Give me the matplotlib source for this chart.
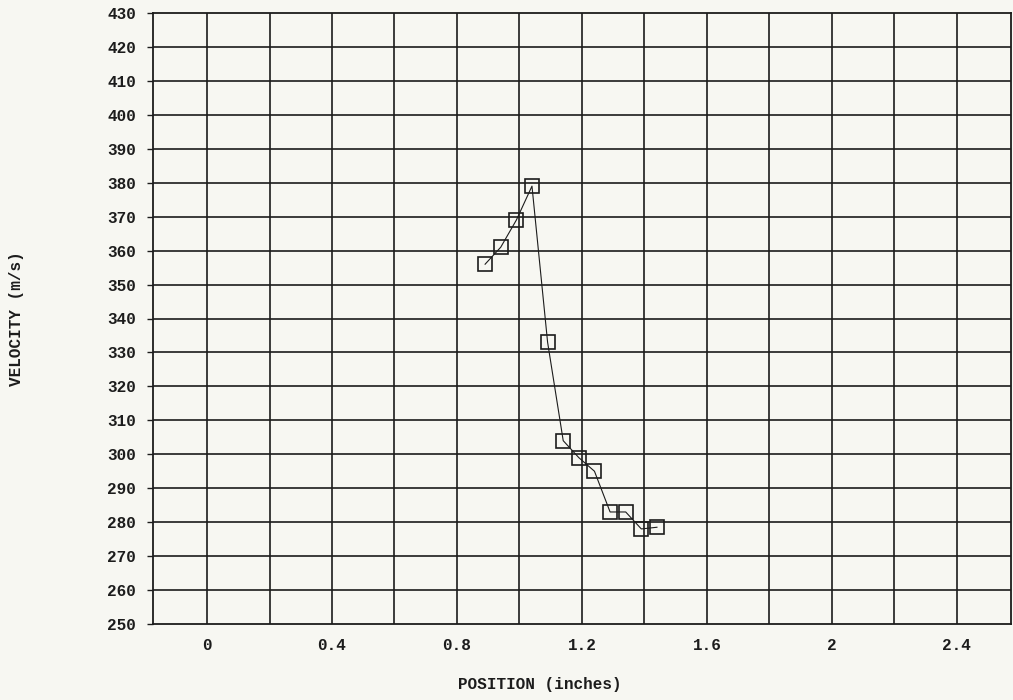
import matplotlib
matplotlib.use("Agg")
import matplotlib.pyplot as plt
import numpy as np

# Measured projectile velocity versus position along the barrel
position_in = [0.89, 0.94, 0.99, 1.04, 1.09, 1.14, 1.19, 1.24, 1.29, 1.34, 1.39, 1.44]
velocity_ms = [356, 361, 369, 379, 333, 304, 299, 295, 283, 283, 278, 278.5]

x_ticks = [0, 0.4, 0.8, 1.2, 1.6, 2.0, 2.4]
x_tick_labels = ["0", "0.4", "0.8", "1.2", "1.6", "2", "2.4"]
y_ticks = list(range(250, 431, 10))

bg = "#f7f7f2"
ink = "#1c1c1c"
font = ["Liberation Mono", "DejaVu Sans Mono"]
txt = dict(fontfamily=font, fontsize=11.5, fontweight="bold")

fig = plt.figure(figsize=(10.13, 7.0), dpi=100, facecolor=bg)
ax = fig.add_axes([0.151, 0.1086, 0.847, 0.8728], facecolor=bg)

ax.set_xlim(-0.173, 2.573)
ax.set_ylim(250, 430)

# grid: vertical every 0.2 in, horizontal every 10 m/s
for xv in np.arange(0, 2.41, 0.2):
    ax.axvline(xv, color=ink, lw=1.2, zorder=1)
for yv in y_ticks[1:-1]:
    ax.axhline(yv, color=ink, lw=1.2, zorder=1)

ax.plot(position_in, velocity_ms, color=ink, lw=0.8, marker="s", ms=10,
        mfc="none", mec=ink, mew=1.2, zorder=3)

for sp in ax.spines.values():
    sp.set_color(ink)
    sp.set_linewidth(1.3)

ax.set_xticks(x_ticks)
ax.set_xticklabels(x_tick_labels, **txt)
ax.set_yticks(y_ticks)
ax.set_yticklabels([str(v) for v in y_ticks], **txt)
ax.tick_params(axis="x", length=0, pad=10, colors=ink)
ax.tick_params(axis="y", length=4, width=1, direction="out", pad=8, colors=ink)

fig.text(0.533, 0.022, "POSITION (inches)", ha="center", va="center",
         color=ink, **txt)
fig.text(0.016, 0.545, "VELOCITY (m/s)", ha="center", va="center",
         rotation=90, color=ink, **txt)

fig.savefig("out.png", dpi=100, facecolor=bg)
